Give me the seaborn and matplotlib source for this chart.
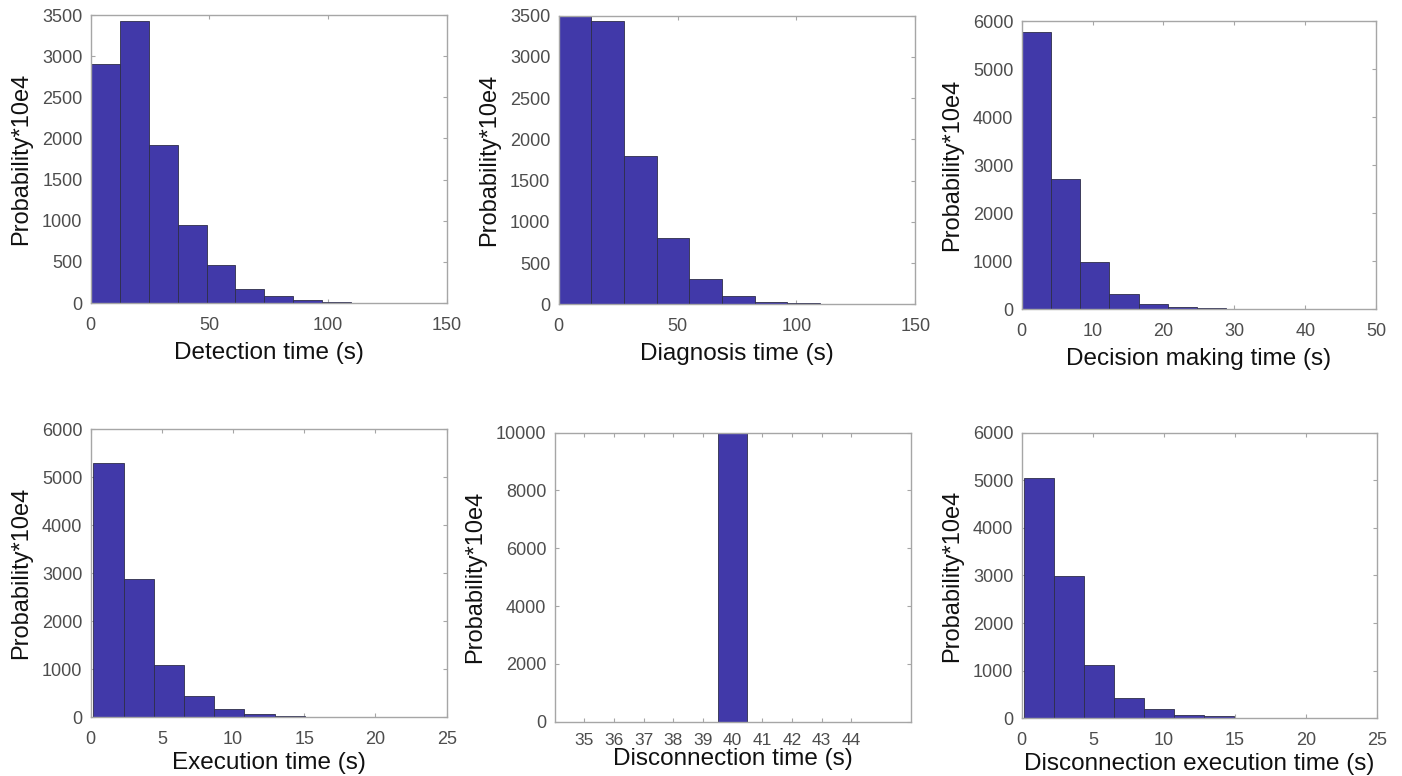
import numpy as np
import pandas as pd
import seaborn as sns
import matplotlib
matplotlib.use("Agg")
import matplotlib.pyplot as plt

# ---- data (probability * 1e4 per histogram bin) ----
detection_start, detection_width = 0.0, 12.2
detection_vals = [2910, 3432, 1922, 943, 457, 166, 85, 40, 16, 4]

diagnosis_start, diagnosis_width = 0.0, 13.74
diagnosis_vals = [3505, 3440, 1799, 804, 303, 97, 32, 12, 4, 1]

decision_start, decision_width = 0.0, 4.12
decision_vals = [5775, 2708, 979, 319, 111, 42, 21, 8, 3, 1]

execution_start, execution_width = 0.19, 2.12
execution_vals = [5290, 2889, 1083, 438, 174, 69, 35, 12, 6, 3]

disconnection_start, disconnection_width = 39.5, 1.0
disconnection_vals = [10000]

disc_exec_start, disc_exec_width = 0.19, 2.1
disc_exec_vals = [5049, 2997, 1127, 434, 196, 70, 42, 15, 5, 2]

xlabels = ["Detection time (s)", "Diagnosis time (s)", "Decision making time (s)",
           "Execution time (s)", "Disconnection time (s)", "Disconnection execution time (s)"]
ylabel = "Probability*10e4"

disc_ticks = [35, 36, 37, 38, 39, 40, 41, 42, 43, 44]

panels = [
    (detection_start, detection_width, detection_vals),
    (diagnosis_start, diagnosis_width, diagnosis_vals),
    (decision_start, decision_width, decision_vals),
    (execution_start, execution_width, execution_vals),
    (disconnection_start, disconnection_width, disconnection_vals),
    (disc_exec_start, disc_exec_width, disc_exec_vals),
]

# ---- layout / style ----
sns.set_theme(style="white")
plt.rcParams["font.family"] = ["Liberation Sans", "DejaVu Sans"]

fig = plt.figure(figsize=(14.02, 7.76), dpi=100)
positions = [
    [0.0647, 0.6095, 0.2539, 0.3711],
    [0.3985, 0.6079, 0.2544, 0.3719],
    [0.7288, 0.6018, 0.2527, 0.3711],
    [0.0647, 0.0756, 0.2539, 0.3711],
    [0.3956, 0.0700, 0.2539, 0.3724],
    [0.7288, 0.0744, 0.2536, 0.3680],
]
xlims = [(0, 150), (0, 150), (0, 50), (0, 25), (34, 46), (0, 25)]
ylims = [(0, 3500), (0, 3500), (0, 6000), (0, 6000), (0, 10000), (0, 6000)]
yticks = [np.arange(0, 3501, 500), np.arange(0, 3501, 500), np.arange(0, 6001, 1000),
          np.arange(0, 6001, 1000), np.arange(0, 10001, 2000), np.arange(0, 6001, 1000)]
xticks = [np.arange(0, 151, 50), np.arange(0, 151, 50), np.arange(0, 51, 10),
          np.arange(0, 26, 5), disc_ticks, np.arange(0, 26, 5)]
xtick_sizes = [13, 13, 13, 13, 12.5, 13]
xtick_pads = [10, 10, 10, 10, 8, 10]
xlabel_pads = [6, 6, 6, 3, 0, 3]

bar_color = "#4139A9"
spine_color = "#A6A6A6"
tick_color = "#4D4D4D"

for i, (start, width, vals) in enumerate(panels):
    ax = fig.add_axes(positions[i])
    n = len(vals)
    edges = [float(start + width * k) for k in range(n + 1)]
    centers = [(edges[k] + edges[k + 1]) / 2 for k in range(n)]
    df = pd.DataFrame({"t": centers, "p": [float(v) for v in vals]})
    sns.histplot(data=df, x="t", weights="p", bins=edges, ax=ax,
                 color=bar_color, alpha=1.0, edgecolor="#2E2E4A", linewidth=0.6)
    ax.set_xlim(*xlims[i])
    ax.set_ylim(*ylims[i])
    ax.set_xticks(xticks[i])
    ax.set_yticks(yticks[i])
    ax.set_xlabel(xlabels[i], fontsize=17.5, color="#111111", labelpad=xlabel_pads[i])
    ax.set_ylabel(ylabel, fontsize=17, color="#111111", labelpad=7)
    for s in ax.spines.values():
        s.set_visible(True)
        s.set_color(spine_color)
        s.set_linewidth(1.0)
    ax.tick_params(axis="both", direction="in", length=3, width=0.8,
                   color=spine_color, labelcolor=tick_color,
                   top=True, right=True, bottom=True, left=True)
    ax.tick_params(axis="x", labelsize=xtick_sizes[i], pad=xtick_pads[i])
    ax.tick_params(axis="y", labelsize=13, pad=6)
    ax.set_facecolor("white")

fig.savefig("out.png", dpi=100, facecolor="white")
